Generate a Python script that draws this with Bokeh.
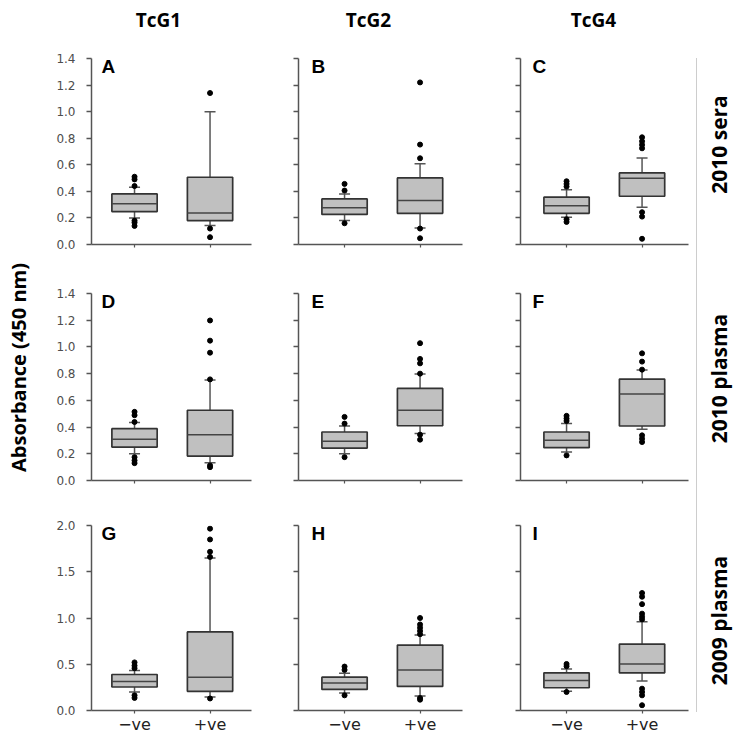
import math
from bokeh.plotting import figure
from bokeh.layouts import row, column
from bokeh.models import Range1d, FixedTicker, Label, ColumnDataSource, NumeralTickFormatter
from bokeh.core.properties import value
from bokeh.embed import file_html
from bokeh.resources import INLINE

# ---------------- data ----------------
groups = ["TcG1", "TcG2", "TcG4"]
samples = ["2010 sera", "2010 plasma", "2009 plasma"]
categories = ["\u2212ve", "+ve"]
panel_letters = ["A", "B", "C", "D", "E", "F", "G", "H", "I"]
row_y_max = [1.4, 1.4, 2.0]
row_y_ticks = [
    [0.0, 0.2, 0.4, 0.6, 0.8, 1.0, 1.2, 1.4],
    [0.0, 0.2, 0.4, 0.6, 0.8, 1.0, 1.2, 1.4],
    [0.0, 0.5, 1.0, 1.5, 2.0],
]
y_title = "Absorbance (450 nm)"

# negative (-ve) groups, panels A..I
neg_low = [0.200, 0.180, 0.205, 0.200, 0.200, 0.213, 0.200, 0.189, 0.207]
neg_q1 = [0.248, 0.226, 0.235, 0.250, 0.243, 0.246, 0.254, 0.228, 0.246]
neg_med = [0.306, 0.276, 0.291, 0.308, 0.293, 0.301, 0.314, 0.296, 0.325]
neg_q3 = [0.381, 0.343, 0.356, 0.388, 0.363, 0.363, 0.389, 0.360, 0.407]
neg_high = [0.430, 0.381, 0.413, 0.434, 0.408, 0.426, 0.432, 0.403, 0.450]
neg_out = [
    [0.51, 0.49, 0.44, 0.18, 0.165, 0.14],
    [0.456, 0.406, 0.16],
    [0.476, 0.456, 0.436, 0.19, 0.17],
    [0.514, 0.489, 0.438, 0.175, 0.15, 0.13],
    [0.476, 0.426, 0.175],
    [0.484, 0.464, 0.446, 0.188],
    [0.52, 0.485, 0.457, 0.164, 0.136],
    [0.475, 0.439, 0.164],
    [0.503, 0.479, 0.20],
]

# positive (+ve) groups, panels A..I
pos_low = [0.143, 0.125, 0.280, 0.133, 0.351, 0.383, 0.146, 0.157, 0.318]
pos_q1 = [0.180, 0.235, 0.363, 0.183, 0.410, 0.408, 0.207, 0.260, 0.407]
pos_med = [0.238, 0.331, 0.499, 0.343, 0.526, 0.647, 0.360, 0.439, 0.503]
pos_q3 = [0.506, 0.501, 0.539, 0.526, 0.689, 0.759, 0.849, 0.707, 0.718]
pos_high = [1.000, 0.607, 0.652, 0.752, 0.797, 0.827, 1.650, 0.817, 0.960]
pos_out = [
    [1.14, 0.12, 0.055],
    [0.649, 0.752, 1.22, 0.12, 0.047],
    [0.807, 0.777, 0.75, 0.724, 0.243, 0.21, 0.043],
    [0.757, 0.957, 1.047, 1.198, 0.113, 0.10],
    [0.80, 0.877, 0.91, 1.028, 0.343, 0.306],
    [0.83, 0.89, 0.952, 0.338, 0.313, 0.288],
    [1.66, 1.716, 1.849, 1.966, 0.13],
    [1.00, 0.93, 0.895, 0.86, 0.825, 0.135, 0.117],
    [1.27, 1.23, 1.15, 1.047, 1.014, 0.985, 0.236, 0.20, 0.164, 0.057],
]

# ---------------- layout geometry ----------------
PX_PER_CAT = 75.5
COLS = [(51, 160, 19, 0.43), (28, 164, 28, 0.39), (30, 168, 4, 0.39)]
ROWS = [(22, 186, 20), (29, 187, 22), (23, 187, 24)]
LETTER_DX = [10, 13, 12]

AX = "#555555"
BOX_FILL = "#c0c0c0"
BOX_LINE = "#333333"


def panel(i):
    r, c = divmod(i, 3)
    bl, fw, br, xs = COLS[c]
    bt, fh, bb = ROWS[r]
    xe = xs + fw / PX_PER_CAT
    p = figure(width=bl + fw + br, height=bt + fh + bb,
               x_range=Range1d(xs, xe), y_range=Range1d(0, row_y_max[r]),
               output_backend="svg", toolbar_location=None,
               min_border_left=bl, min_border_right=br,
               min_border_top=bt, min_border_bottom=bb)
    p.outline_line_color = None
    p.grid.visible = False
    p.background_fill_color = "white"
    p.border_fill_color = "white"

    xpos = [k + 1 for k in range(len(categories))]
    src = ColumnDataSource(dict(
        x=xpos,
        low=[neg_low[i], pos_low[i]],
        q1=[neg_q1[i], pos_q1[i]],
        med=[neg_med[i], pos_med[i]],
        q3=[neg_q3[i], pos_q3[i]],
        high=[neg_high[i], pos_high[i]],
        xl=[x - 0.3 for x in xpos],
        xr=[x + 0.3 for x in xpos],
    ))
    p.segment(x0="x", y0="q3", x1="x", y1="high", source=src, line_color=AX, line_width=1.5)
    p.segment(x0="x", y0="low", x1="x", y1="q1", source=src, line_color=AX, line_width=1.5)
    p.scatter(x="x", y="high", source=src, marker="dash", size=11, line_color=AX, line_width=1.5)
    p.scatter(x="x", y="low", source=src, marker="dash", size=11, line_color=AX, line_width=1.5)
    p.vbar(x="x", width=0.6, bottom="q1", top="q3", source=src,
           fill_color=BOX_FILL, line_color=BOX_LINE, line_width=1.7)
    p.segment(x0="xl", y0="med", x1="xr", y1="med", source=src, line_color="#444444", line_width=1.5)

    ox = [1] * len(neg_out[i]) + [2] * len(pos_out[i])
    oy = neg_out[i] + pos_out[i]
    p.scatter(x=ox, y=oy, size=5, fill_color="black", line_color="black")

    p.add_layout(Label(x=xs, y=row_y_max[r], x_offset=LETTER_DX[c], y_offset=-8,
                       text=panel_letters[i], text_font="Liberation Sans",
                       text_font_style="bold", text_font_size="19px",
                       text_color="black", text_align="left",
                       text_baseline="alphabetic"))

    yax = p.yaxis[0]
    yax.ticker = FixedTicker(ticks=row_y_ticks[r])
    yax.formatter = NumeralTickFormatter(format="0.0")
    yax.minor_tick_line_color = None
    yax.major_tick_out = 5
    yax.major_tick_in = 0
    yax.axis_line_color = AX
    yax.axis_line_width = 1.5
    yax.major_tick_line_color = AX
    yax.major_tick_line_width = 1.5
    yax.major_label_text_font = "DejaVu Sans"
    yax.major_label_text_font_size = "12px"
    yax.major_label_text_color = "#4d4d4d"
    yax.major_label_standoff = 11
    if c != 0:
        yax.major_label_overrides = {t: "" for t in row_y_ticks[r]}
        yax.major_label_text_color = None
        yax.major_label_standoff = 0

    xax = p.xaxis[0]
    xax.ticker = FixedTicker(ticks=xpos)
    xax.major_label_overrides = {x: categories[k] for k, x in enumerate(xpos)}
    xax.minor_tick_line_color = None
    xax.major_tick_out = 3
    xax.major_tick_in = 0
    xax.axis_line_color = AX
    xax.axis_line_width = 1.5
    xax.major_tick_line_color = AX
    xax.major_tick_line_width = 1.2
    xax.major_label_text_font = "DejaVu Sans"
    xax.major_label_text_font_size = "16px"
    xax.major_label_text_color = "#222222"
    xax.major_label_standoff = 1
    if r != 2:
        xax.major_label_overrides = {x: "" for x in xpos}
        xax.major_label_text_color = None
        xax.major_label_text_font_size = "8px"
        xax.major_label_standoff = 0
    return p


def blank(w, h, xr, yr):
    f = figure(width=w, height=h, x_range=Range1d(*xr), y_range=Range1d(*yr),
               output_backend="svg", toolbar_location=None,
               x_axis_type=None, y_axis_type=None,
               min_border_left=0, min_border_right=0, min_border_top=0, min_border_bottom=0)
    f.outline_line_color = None
    f.grid.visible = False
    return f


panels = [panel(i) for i in range(9)]

# header with column titles (page coordinates)
hdr = blank(652, 36, (40, 692), (36, 0))
hdr.text(x=[158, 368, 593], y=[19, 19, 19], text=groups,
         text_font=value("Open Sans"), text_font_style="bold", text_font_size="19px",
         text_align="center", text_baseline="middle", text_color="black")

# left strip with y title
left = blank(40, 736, (0, 40), (736, 0))
left.text(x=[18], y=[367], text=[y_title], angle=math.pi / 2,
          text_font=value("Open Sans"), text_font_style="bold", text_font_size="20px",
          text_align="center", text_baseline="middle", text_color="black")

# right strip with row labels and dotted separator
right = blank(42, 736, (692, 734), (736, 0))
right.segment(x0=[696], y0=[58], x1=[696], y1=[712], line_color="#9a9a9a",
              line_width=1, line_dash="1 1")
right.text(x=[718, 718, 718], y=[144, 378, 620], text=samples, angle=math.pi / 2,
           text_font=value("Open Sans"), text_font_style="bold", text_font_size="21px",
           text_align="center", text_baseline="middle", text_color="black")

grid = column(hdr,
              row(panels[0], panels[1], panels[2]),
              row(panels[3], panels[4], panels[5]),
              row(panels[6], panels[7], panels[8]))
layout = row(left, grid, right)

open("out.html", "w").write(file_html(layout, INLINE))
